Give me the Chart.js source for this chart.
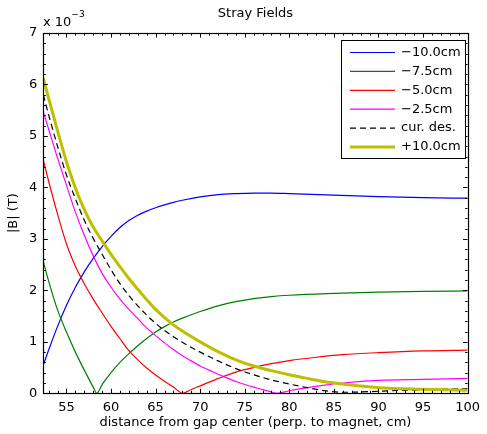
<!DOCTYPE html>
<html><head><meta charset="utf-8">
<script src="https://cdn.jsdelivr.net/npm/chart.js@4.4.0/dist/chart.umd.min.js"></script>
<style>html,body{margin:0;padding:0;background:#fff;}</style>
</head><body>
<canvas id="c" width="487" height="434"></canvas>
<script>
const FONT = "'DejaVu Sans', Verdana, sans-serif";
const titleText = "Stray Fields";
const xTitle = "distance from gap center (perp. to magnet, cm)";
const yTitle = "|B| (T)";
const xTickValues = [55, 60, 65, 70, 75, 80, 85, 90, 95, 100];
const yTickValues = [0, 1, 2, 3, 4, 5, 6, 7];
const seriesLabels = ["\u221210.0cm", "\u22127.5cm", "\u22125.0cm", "\u22122.5cm", "cur. des.", "+10.0cm"];

const blueX = [52.4,53,54,55,56,57,58,59,60,61,62,63,64,65,66,67,68,70,72,74,76,78,80,85,90,95,100];
const blueY = [0.55,0.84,1.30,1.71,2.06,2.36,2.62,2.85,3.05,3.22,3.355,3.46,3.54,3.605,3.66,3.71,3.75,3.815,3.86,3.88,3.89,3.89,3.88,3.85,3.82,3.80,3.79];

const greenX = [52.4,53,54,55,56,57,58,58.4,59,60,61,62,63,64,65,66,67,68,70,72,74,76,78,80,85,90,95,100];
const greenY = [2.56,2.18,1.62,1.19,0.80,0.45,0.12,0,0.17,0.40,0.60,0.77,0.925,1.065,1.19,1.295,1.385,1.46,1.59,1.70,1.78,1.84,1.88,1.905,1.94,1.965,1.98,1.99];

const redX = [52.4,53,54,55,56,57,58,59,60,61,62,63,64,65,66,67,68.06,69,70,72,74,76,78,80,83,86,90,95,100];
const redY = [4.53,4.12,3.48,2.90,2.47,2.13,1.83,1.56,1.30,1.06,0.83,0.65,0.49,0.355,0.235,0.12,0,0.075,0.145,0.285,0.41,0.50,0.575,0.635,0.70,0.75,0.79,0.825,0.84];

const magentaX = [52.4,53,54,55,56,57,58,59,60,61,62,63,64,65,66,67,68,69,70,71,72,73,74,75,76,77,78,78.6,80,82,84,86,90,95,100];
const magentaY = [5.47,5.13,4.57,4.04,3.52,3.07,2.67,2.33,2.06,1.83,1.63,1.45,1.27,1.12,0.98,0.85,0.73,0.63,0.53,0.45,0.37,0.30,0.23,0.17,0.12,0.07,0.025,0,0.05,0.11,0.16,0.20,0.25,0.27,0.29];

const desX = [52.4,53,54,55,56,57,58,59,60,61,62,63,64,65,66,67,68,70,72,74,76,78,80,82,84,86,88,90,95,100];
const desY = [5.80,5.41,4.80,4.24,3.78,3.36,3.01,2.70,2.40,2.13,1.90,1.70,1.52,1.36,1.22,1.10,0.99,0.80,0.63,0.48,0.36,0.26,0.18,0.11,0.05,0.02,0.025,0.04,0.07,0.09];

const yellowX = [52.4,53,54,55,56,57,58,59,60,61,62,63,64,65,66,67,68,70,72,74,76,78,80,82,84,86,88,90,95,100];
const yellowY = [6.12,5.73,5.10,4.50,3.99,3.57,3.23,2.96,2.70,2.46,2.23,2.02,1.82,1.63,1.47,1.33,1.21,1.00,0.81,0.65,0.53,0.44,0.36,0.29,0.225,0.18,0.14,0.11,0.08,0.06];

function pts(xs, ys){ return xs.map((v,i)=>({x:v, y:ys[i]})); }

const series = [
  {xs: blueX, ys: blueY, color: '#0000ff', width: 1.2, dash: []},
  {xs: greenX, ys: greenY, color: '#008000', width: 1.2, dash: []},
  {xs: redX, ys: redY, color: '#ff0000', width: 1.2, dash: []},
  {xs: magentaX, ys: magentaY, color: '#ff00ff', width: 1.2, dash: []},
  {xs: desX, ys: desY, color: '#000000', width: 1.2, dash: [6,4]},
  {xs: yellowX, ys: yellowY, color: '#bfbf00', width: 3, dash: []}
];

const datasets = series.map((s,i)=>({
  label: seriesLabels[i],
  data: pts(s.xs, s.ys),
  borderColor: s.color,
  backgroundColor: s.color,
  borderWidth: s.width,
  borderDash: s.dash,
  pointRadius: 0,
  cubicInterpolationMode: 'monotone',
  fill: false,
  order: series.length - i
}));

const decor = {
  id: 'decor',
  afterDatasetsDraw(chart){
    const {ctx, chartArea: a, scales: {x, y}} = chart;
    ctx.save();
    ctx.strokeStyle = '#000';
    ctx.lineWidth = 1;
    ctx.beginPath();
    for (let v = 53; v <= 99; v++){
      const px = Math.round(x.getPixelForValue(v)) + 0.5;
      const L = (v % 5 === 0) ? 4.5 : 2.5;
      ctx.moveTo(px, a.bottom); ctx.lineTo(px, a.bottom - L);
      ctx.moveTo(px, a.top); ctx.lineTo(px, a.top + L);
    }
    for (let k = 1; k < 35; k++){
      const v = k * 0.2;
      const py = Math.round(y.getPixelForValue(v)) + 0.5;
      const L = (k % 5 === 0) ? 4.5 : 2.5;
      ctx.moveTo(a.left, py); ctx.lineTo(a.left + L, py);
      ctx.moveTo(a.right, py); ctx.lineTo(a.right - L, py);
    }
    ctx.stroke();
    ctx.lineWidth = 1.2;
    ctx.strokeRect(Math.round(a.left)+0.5, Math.round(a.top)+0.5, Math.round(a.right)-Math.round(a.left), Math.round(a.bottom)-Math.round(a.top));

    // texts
    ctx.fillStyle = '#000';
    ctx.font = '13px ' + FONT;
    ctx.textAlign = 'center'; ctx.textBaseline = 'middle';
    ctx.fillText(titleText, (a.left + a.right)/2, 14);
    ctx.fillText(xTitle, (a.left + a.right)/2, 423);
    ctx.save();
    ctx.translate(14, (a.top + a.bottom)/2);
    ctx.rotate(-Math.PI/2);
    ctx.fillText(yTitle, 0, 0);
    ctx.restore();
    ctx.textAlign = 'left'; ctx.textBaseline = 'alphabetic';
    ctx.fillText('x 10', 43, 26);
    const w = ctx.measureText('x 10').width;
    ctx.font = '9px ' + FONT;
    ctx.fillText('\u22123', 43 + w, 17);

    // legend
    const lx = 341.5, ly = 40.5, lw = 124, lh = 118;
    ctx.fillStyle = '#fff';
    ctx.fillRect(lx, ly, lw, lh);
    ctx.strokeStyle = '#000'; ctx.lineWidth = 1;
    ctx.strokeRect(lx, ly, lw, lh);
    ctx.font = '13px ' + FONT;
    ctx.textBaseline = 'middle';
    chart.data.datasets.forEach((ds, i) => {
      const ry = 52.5 + i * 18.9;
      ctx.strokeStyle = ds.borderColor;
      ctx.lineWidth = ds.borderWidth;
      ctx.setLineDash(ds.borderDash);
      ctx.beginPath(); ctx.moveTo(350, ry); ctx.lineTo(395, ry); ctx.stroke();
      ctx.setLineDash([]);
      ctx.fillStyle = '#000';
      ctx.fillText(ds.label, 401, ry);
    });
    ctx.restore();
  }
};

new Chart(document.getElementById('c'), {
  type: 'line',
  data: { datasets },
  options: {
    responsive: false,
    animation: false,
    devicePixelRatio: 1,
    layout: { padding: { left: 0, top: 33, right: 13.7, bottom: 0 } },
    plugins: { legend: { display: false }, title: { display: false }, tooltip: { enabled: false } },
    scales: {
      x: {
        type: 'linear', min: 52.4, max: 100,
        grid: { display: false, drawTicks: false },
        border: { display: false },
        afterBuildTicks(s){ s.ticks = xTickValues.map(v => ({value: v})); },
        afterFit(s){ s.height = 40.7; },
        ticks: { autoSkip: false, maxRotation: 0, padding: 7, color: '#000', font: { family: FONT, size: 13 }, callback: v => String(v) }
      },
      y: {
        type: 'linear', min: 0, max: 7,
        grid: { display: false, drawTicks: false },
        border: { display: false },
        afterBuildTicks(s){ s.ticks = yTickValues.map(v => ({value: v})); },
        afterFit(s){ s.width = 43.3; },
        ticks: { padding: 6, color: '#000', font: { family: FONT, size: 13 }, callback: v => String(v) }
      }
    }
  },
  plugins: [decor]
});
</script>
</body></html>
